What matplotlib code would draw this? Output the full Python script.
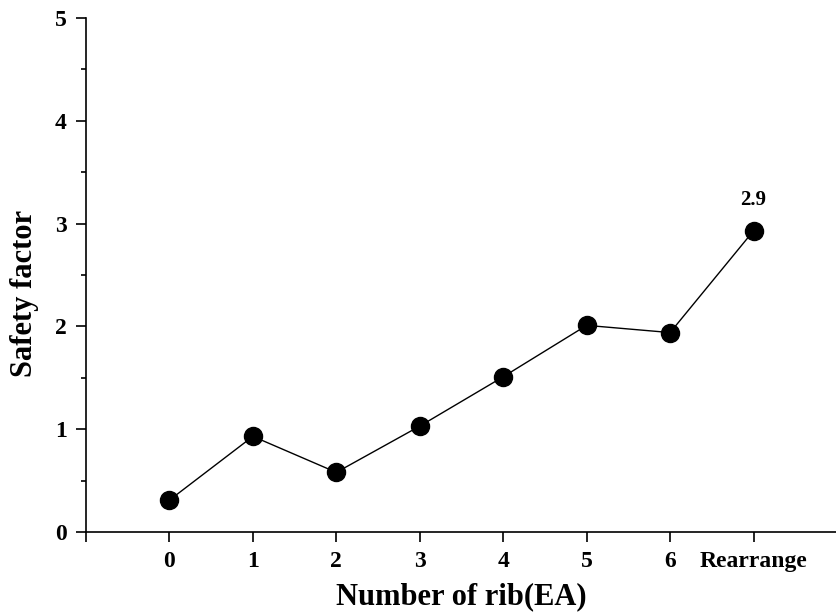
import numpy as np
import matplotlib.pyplot as plt
from matplotlib.ticker import MultipleLocator, FixedLocator

categories = ['0', '1', '2', '3', '4', '5', '6', 'Rearrange']
safety_factor = [0.31, 0.93, 0.58, 1.03, 1.51, 2.01, 1.94, 2.93]

plt.rcParams['font.family'] = ['Liberation Serif', 'DejaVu Serif']
plt.rcParams['font.weight'] = 'bold'

fig = plt.figure(figsize=(8.37, 6.14), dpi=100)
ax = fig.add_axes([86 / 837, 82 / 614, 751 / 837, 514 / 614])

x = np.arange(len(categories))
ax.plot(x, safety_factor, color='black', lw=1.0, marker='o', ms=13,
        markerfacecolor='black', markeredgecolor='black')

# value label on the last point
ax.annotate('%.1f' % safety_factor[-1], (x[-1], safety_factor[-1]),
            xytext=(0, 15), textcoords='offset points', ha='center',
            va='bottom', fontsize=15, fontweight='bold')

ax.set_xlim(-1, len(categories))
ax.set_ylim(0, 5)

ax.xaxis.set_major_locator(FixedLocator(np.arange(-1, len(categories) + 1)))
ax.set_xticklabels([''] + categories + [''])
ax.yaxis.set_major_locator(MultipleLocator(1))
ax.yaxis.set_minor_locator(MultipleLocator(0.5))

ax.spines['top'].set_visible(False)
ax.spines['right'].set_visible(False)
for s in ['left', 'bottom']:
    ax.spines[s].set_linewidth(1.2)

ax.tick_params(which='major', direction='out', length=7, width=1.2,
               labelsize=17, pad=7)
ax.tick_params(which='minor', direction='out', length=3.5, width=1.2)
for lab in ax.get_xticklabels() + ax.get_yticklabels():
    lab.set_fontweight('bold')

ax.set_xlabel('Number of rib(EA)', fontsize=22, fontweight='bold', labelpad=7)
ax.set_ylabel('Safety factor', fontsize=22, fontweight='bold')
ax.yaxis.set_label_coords(-0.063, 0.464)

fig.savefig('out.png', dpi=100)
